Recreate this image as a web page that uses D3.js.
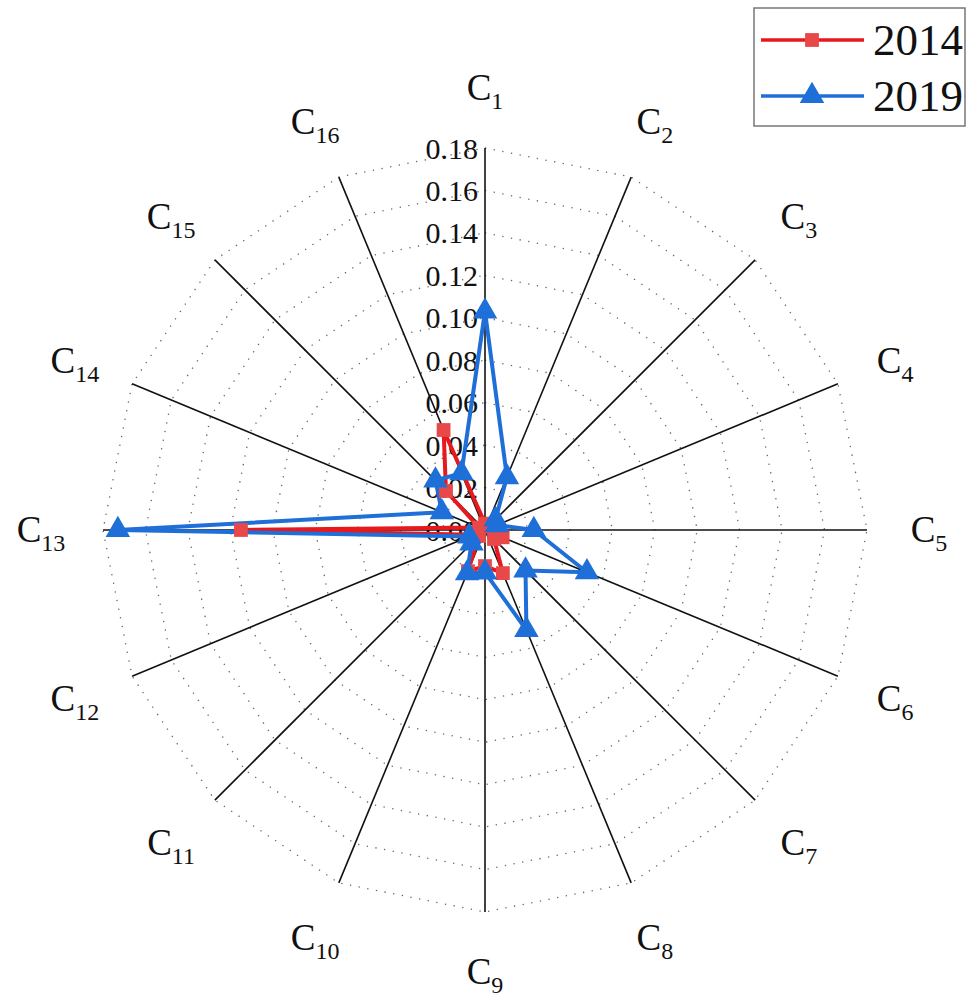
<!DOCTYPE html>
<html>
<head>
<meta charset="utf-8">
<script src="https://cdn.jsdelivr.net/npm/d3@7"></script>
<style>
  body { margin: 0; background: #fff; }
  svg { display: block; }
</style>
</head>
<body>
<svg id="chart" width="968" height="995"></svg>
<script>
// radar chart, two years over 16 criteria

var categories = ["1","2","3","4","5","6","7","8","9","10","11","12","13","14","15","16"];
var years = ["2014", "2019"];
var values2014 = [0.003, 0.003, 0.004, 0.004, 0.006, 0.009, 0.006, 0.022, 0.017, 0.021, 0.004, 0.006, 0.115, 0.003, 0.026, 0.051];
var values2019 = [0.103, 0.027, 0.007, 0.006, 0.023, 0.052, 0.027, 0.051, 0.020, 0.022, 0.009, 0.008, 0.173, 0.022, 0.033, 0.029];
var ticks = [0, 0.02, 0.04, 0.06, 0.08, 0.10, 0.12, 0.14, 0.16, 0.18];

var svg = d3.select("#chart");
var cx = 485, cy = 530;
var radius = 382;
var font = "'Liberation Serif', 'Times New Roman', serif";

var r = d3.scaleLinear().domain([0, 0.18]).range([0, radius]);
var angle = d3.scaleBand().domain(categories).range([0, 2 * Math.PI]).align(0);

function px(a, d) { return cx + d * Math.sin(a); }
function py(a, d) { return cy - d * Math.cos(a); }

var g = svg.append("g");

// dotted polygon grid
ticks.slice(1).forEach(function(t) {
        var pts = categories.map(function(c) { return [px(angle(c), r(t)), py(angle(c), r(t))]; });
        g.append("polygon")
                .attr("points", pts.map(function(p) { return p.join(","); }).join(" "))
                .attr("fill", "none")
                .attr("stroke", "#666")
                .attr("stroke-width", 1.3)
                .attr("stroke-dasharray", "1.3,7.5");
});

// spokes
categories.forEach(function(c) {
        g.append("line")
                .attr("x1", cx).attr("y1", cy)
                .attr("x2", px(angle(c), radius))
                .attr("y2", py(angle(c), radius))
                .attr("stroke", "#111")
                .attr("stroke-width", 1.6);
});

// tick labels up the first spoke
ticks.forEach(function(t) {
        g.append("text")
                .attr("x", cx - 7)
                .attr("y", cy - r(t))
                .attr("dy", "0.35em")
                .attr("text-anchor", "end")
                .attr("font-family", font)
                .attr("font-size", "30px")
                .attr("fill", "#111")
                .text(t.toFixed(2));
});

// category labels C with subscripts
categories.forEach(function(c) {
        var a = angle(c);
        var t = g.append("text")
                .attr("x", px(a, 444))
                .attr("y", py(a, 442) + 12)
                .attr("text-anchor", "middle")
                .attr("font-family", font)
                .attr("font-size", "37px")
                .attr("fill", "#111");
        t.append("tspan").text("C");
        t.append("tspan").attr("font-size", "24px").attr("dy", 9).text(c);
});

var series = [
        { name: years[0], values: values2014, line: "#e8191c", mark: "#e84848", shape: d3.symbolSquare, size: 190 },
        { name: years[1], values: values2019, line: "#1f6fd8", mark: "#1f6fd8", shape: d3.symbolTriangle, size: 260 }
];

var radial = d3.lineRadial()
        .angle(function(d, i) { return angle(categories[i]); })
        .radius(function(d) { return r(d); })
        .curve(d3.curveLinearClosed);

series.forEach(function(s) {
        g.append("path")
                .attr("transform", "translate(" + cx + "," + cy + ")")
                .attr("d", radial(s.values))
                .attr("fill", "none")
                .attr("stroke", s.line)
                .attr("stroke-width", 4)
                .attr("stroke-linejoin", "round");
});

series.forEach(function(s) {
        s.values.forEach(function(v, i) {
                var a = angle(categories[i]);
                g.append("path")
                        .attr("d", d3.symbol().type(s.shape).size(s.size)())
                        .attr("transform", "translate(" + px(a, r(v)) + "," + py(a, r(v)) + ")")
                        .attr("fill", s.mark);
        });
});

// legend
var lg = svg.append("g");
lg.append("rect")
        .attr("x", 754).attr("y", 8)
        .attr("width", 211).attr("height", 118)
        .attr("fill", "#fff")
        .attr("stroke", "#777")
        .attr("stroke-width", 1.5);

series.forEach(function(s, i) {
        var y = 40 + i * 56;
        lg.append("line")
                .attr("x1", 761).attr("x2", 864)
                .attr("y1", y).attr("y2", y)
                .attr("stroke", s.line)
                .attr("stroke-width", 3.5);
        lg.append("path")
                .attr("d", d3.symbol().type(s.shape).size(s.size)())
                .attr("transform", "translate(812," + y + ")")
                .attr("fill", s.mark);
        lg.append("text")
                .attr("x", 873)
                .attr("y", y + 15)
                .attr("font-family", font)
                .attr("font-size", "45px")
                .attr("fill", "#111")
                .text(s.name);
});
</script>
</body>
</html>
